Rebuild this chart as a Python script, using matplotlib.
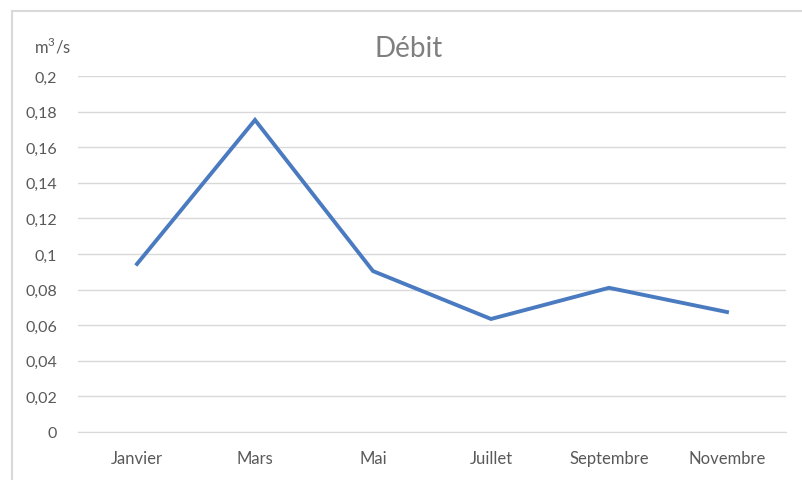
import matplotlib
matplotlib.use("Agg")
import matplotlib.pyplot as plt
from matplotlib.patches import Rectangle
from matplotlib.ticker import FuncFormatter

plt.rcParams['font.family'] = ['Lato', 'DejaVu Sans']

months = ["Janvier", "Mars", "Mai", "Juillet", "Septembre", "Novembre"]
debit = [0.0944, 0.1753, 0.0904, 0.0635, 0.081, 0.0674]
yticks = [0, 0.02, 0.04, 0.06, 0.08, 0.1, 0.12, 0.14, 0.16, 0.18, 0.2]

W, H = 803, 481
fig = plt.figure(figsize=(W/100, H/100), dpi=100)
ax = fig.add_axes([78/W, 1-433/H, (786-78)/W, (433-77)/H])

x = list(range(len(months)))
ax.plot(x, debit, color="#4a7ac0", linewidth=2.8, solid_joinstyle='miter')
ax.set_xlim(-0.5, len(months)-0.5)
ax.set_ylim(0, 0.2)
ax.set_yticks(yticks)
def fmt(v, pos):
    s = ("%g" % round(v, 2)).replace(".", ",")
    return s
ax.yaxis.set_major_formatter(FuncFormatter(fmt))
ax.set_xticks(x)
ax.set_xticklabels(months)
ax.grid(axis='y', color="#d9d9d9", linewidth=1.0)
ax.set_axisbelow(True)
for s in ["top", "right", "left"]:
    ax.spines[s].set_visible(False)
ax.spines["bottom"].set_color("#d9d9d9")
ax.tick_params(axis='both', length=0, colors="#595959")
ax.tick_params(axis='x', labelsize=12, pad=13)
ax.tick_params(axis='y', labelsize=11.5, pad=15)

fig.text(409/W, 1-49/H, "Débit", ha="center", va="center", fontsize=20,
         color="#7f7f7f")
fig.text(53/W, 1-46/H, "m$^{\\mathregular{3}}$/s", ha="center", va="center", fontsize=12, color="#595959")

fig.patches.append(Rectangle((12/W, -0.05), 1.1, 1-12/H+0.05, transform=fig.transFigure,
                             fill=False, edgecolor="#d9d9d9", linewidth=1.5))

fig.savefig("out.png", dpi=100)
